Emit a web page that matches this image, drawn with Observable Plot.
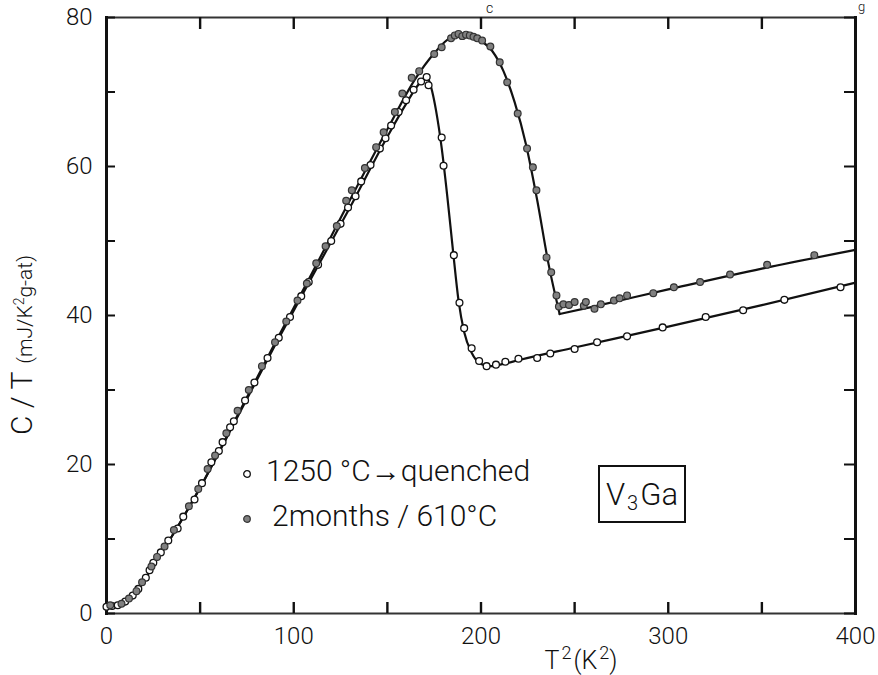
<!DOCTYPE html>
<html><head><meta charset="utf-8">
<script src="https://cdn.jsdelivr.net/npm/d3@7"></script>
<script src="https://cdn.jsdelivr.net/npm/@observablehq/plot@0.6"></script>
<style>
body{margin:0;background:#fff;}
#wrap{position:relative;width:878px;height:675px;overflow:hidden;font-family:Roboto,"Liberation Sans",sans-serif;font-weight:300;color:#111;}
.abs{position:absolute;white-space:nowrap;line-height:1;}
</style></head><body><div id="wrap"></div>
<script>
// ---- data ----
const xTicks = [0, 50, 100, 150, 200, 250, 300, 350, 400];
const xLabels = [0, 100, 200, 300, 400];
const yTicks = [0, 10, 20, 30, 40, 50, 60, 70, 80];
const yLabels = [0, 20, 40, 60, 80];
const seriesNames = ["1250°C\u2192quenched", "2months/610°C"];

// open circles: 1250°C -> quenched  [T^2, C/T]
const quenchedPts = [
  [0,0.9],[3,1.0],[6,1.1],[10,1.6],[14,2.4],[17,3.3],[21,4.8],[23,5.8],[25,6.8],[29,8.2],
  [33,9.8],[38,11.4],[41,13.0],[47,15.3],[51,17.5],[56,20.3],[60,21.8],[62,23.0],[66,25.0],[68,25.8],
  [74,28.6],[79,31.0],[86,34.3],[92,37.0],[98,39.8],[104,42.6],[108,44.5],[113,46.8],[120,50.0],[125,52.3],
  [129,54.5],[133,56.0],[136,58.0],[141,60.2],[146,62.4],[149,63.8],[152,65.5],[156,67.3],[160,68.9],[164,70.3],
  [168,71.4],[171,72.0],[172,70.9],[179,63.9],[180,60.1],[185.5,48.1],[188.5,41.7],[191,38.3],[195,35.6],[199,33.9],
  [203,33.2],[208,33.4],[213,33.8],[220,34.2],[230,34.3],[237,34.9],[250,35.5],[262,36.4],[278,37.2],[297,38.4],
  [320,39.8],[340,40.7],[362,42.1],[392,43.8]
];
// grey dots: 2 months / 610°C
const annealedPts = [
  [2,1.1],[8,1.3],[12,2.0],[16,3.0],[19,4.2],[24,6.3],[27,7.6],[31,9.0],[36,11.2],[44,14.4],
  [49,16.7],[54,19.4],[58,21.2],[64,24.2],[70,27.2],[76,30.0],[83,33.2],[90,36.4],[96,39.2],[102,42.0],
  [107,44.3],[112,47.0],[117,49.3],[123,52.0],[128,55.4],[131,56.8],[138,59.8],[144,62.6],[148,64.6],[154,67.3],
  [158,69.8],[163,71.9],[167,72.8],[175,75.1],[179,76.0],[184,77.2],[186,77.6],[188,77.8],[190,77.5],[192,77.7],
  [194,77.6],[196,77.4],[198,77.2],[200.6,76.9],[205,76.1],[210,74.0],[214,71.3],[219.6,67.1],[224.6,62.4],[227.7,59.9],
  [229.6,56.8],[235,47.8],[237.5,45.8],[240.3,42.7],[241.6,41.2],[244,41.5],[247,41.4],[250,41.8],[254.9,41.3],[256,41.8],
  [260.6,40.9],[264,41.5],[271,42.0],[274,42.3],[278,42.7],[292,43.0],[303,43.8],[317,44.5],[333,45.5],[352.8,46.8],
  [378,48.1]
];
// drawn curves through the points
const quenchedCurve = [
  [0,0.8],[8,1.1],[13,2.0],[18,3.6],[25,6.5],[35,10.4],[50,16.9],[70,26.4],[90,36.0],[110,45.3],
  [130,54.5],[150,64.0],[160,68.4],[166,70.8],[170,71.9],[172,71.6],[174,70.0],[176,67.5],[179,62.5],[182,56.0],
  [185,48.8],[188,42.0],[191,37.8],[195,35.0],[200,33.5],[205,33.2],[212,33.5],[220,34.0],[250,35.7],[300,38.5],
  [350,41.4],[400,44.4]
];
const annealedCurve = [
  [0,0.8],[8,1.1],[13,2.0],[18,3.6],[25,6.5],[35,10.4],[50,16.9],[70,26.6],[90,36.3],[110,45.8],
  [130,55.5],[150,65.0],[165,71.8],[175,75.2],[182,77.0],[188,77.7],[194,77.7],[200,76.9],[206,75.5],[212,72.8],
  [218,68.6],[224,63.0],[230,55.5],[236,47.0],[242,40.2]
];
const annealedTail = [[242,40.2],[260,41.2],[300,43.5],[350,46.3],[400,48.8]];

// ---- chart ----
const W = 878, H = 675, mL = 106, mR = 23, mT = 17, mB = 62;
const fw = W - mL - mR, fh = H - mT - mB;
const ink = "#111";
const chart = Plot.plot({
  width: W, height: H,
  marginLeft: mL, marginRight: mR, marginTop: mT, marginBottom: mB,
  style: {fontFamily: "Roboto, 'Liberation Sans', sans-serif", fontSize: "24px", fontWeight: 300, color: ink, background: "white", overflow: "visible"},
  x: {domain: [0, 400]},
  y: {domain: [0, 80]},
  marks: [
    Plot.frame({anchor: "top", stroke: "#333", strokeWidth: 2}),
    Plot.frame({anchor: "bottom", stroke: "#333", strokeWidth: 2}),
    Plot.frame({anchor: "left", stroke: ink, strokeWidth: 3}),
    Plot.frame({anchor: "right", stroke: ink, strokeWidth: 3}),
    Plot.tickX(xTicks, {x: d => d, insetTop: fh - 11, stroke: ink, strokeWidth: 2.4}),
    Plot.tickX(xTicks, {x: d => d, insetBottom: fh - 12, stroke: ink, strokeWidth: 2.4}),
    Plot.tickY(yTicks, {y: d => d, insetRight: fw - 9, stroke: ink, strokeWidth: 2}),
    Plot.tickY(yTicks, {y: d => d, insetLeft: fw - 11, stroke: ink, strokeWidth: 2}),
    Plot.axisX(xLabels, {tickSize: 0, tickPadding: 13, label: null}),
    Plot.axisY(yLabels, {tickSize: 0, tickPadding: 14, label: null}),
    Plot.line(quenchedCurve, {x: d => d[0], y: d => d[1], curve: "monotone-x", stroke: ink, strokeWidth: 2.2}),
    Plot.line(annealedCurve, {x: d => d[0], y: d => d[1], curve: "monotone-x", stroke: ink, strokeWidth: 2.2}),
    Plot.line(annealedTail, {x: d => d[0], y: d => d[1], curve: "monotone-x", stroke: ink, strokeWidth: 2.2}),
    Plot.dot(quenchedPts, {x: d => d[0], y: d => d[1], r: 3.4, fill: "white", stroke: ink, strokeWidth: 1.3}),
    Plot.dot(annealedPts, {x: d => d[0], y: d => d[1], r: 3.4, fill: "#808080", stroke: "#333", strokeWidth: 1.2})
  ]
});
const wrap = document.getElementById("wrap");
wrap.appendChild(chart);
chart.style.position = "absolute"; chart.style.left = "0"; chart.style.top = "0";

function add(html, css) {
  const d = document.createElement("div");
  d.className = "abs"; d.innerHTML = html; Object.assign(d.style, css); wrap.appendChild(d); return d;
}
// legend
add(`<svg width="10" height="10"><circle cx="5" cy="5" r="3.3" fill="white" stroke="#111" stroke-width="1.3"/></svg>`, {left: "242px", top: "466px"});
add(`<svg width="10" height="10"><circle cx="5" cy="5" r="3.3" fill="#808080" stroke="#333" stroke-width="1.2"/></svg>`, {left: "242px", top: "511px"});
add(seriesNames[0].replace("°C", " °C"), {left: "266px", top: "456px", fontSize: "30px"});
add(seriesNames[1].replace("/", " / "), {left: "272px", top: "501px", fontSize: "30px"});
// compound box
add(`<span>V</span><span style="font-size:20px;position:relative;top:9px;margin:0 2px">3</span><span>Ga</span>`, {left: "598px", top: "465px", width: "88px", height: "58px", border: "2px solid #111", boxSizing: "border-box", fontSize: "31px", display: "flex", alignItems: "center", justifyContent: "center"});
// axis titles
add(`T<span style="font-size:18px;position:relative;top:-10px;margin:0 2px">2</span>(K<span style="font-size:18px;position:relative;top:-10px;margin-left:2px">2</span>)`, {left: "581px", top: "648px", fontSize: "25px", transform: "translateX(-50%)"});
add(`<span style="font-size:30px">C / T</span>&nbsp; <span style="font-size:21px">(mJ/K<span style="font-size:14px;position:relative;top:-8px">2</span>g-at)</span>`, {left: "22px", top: "345px", transform: "translate(-50%,-50%) rotate(-90deg)"});
// small caption fragments at the top edge
add("c", {left: "486px", top: "1px", fontSize: "14px"});
add("g", {left: "858px", top: "0px", fontSize: "13px"});
</script></body></html>
